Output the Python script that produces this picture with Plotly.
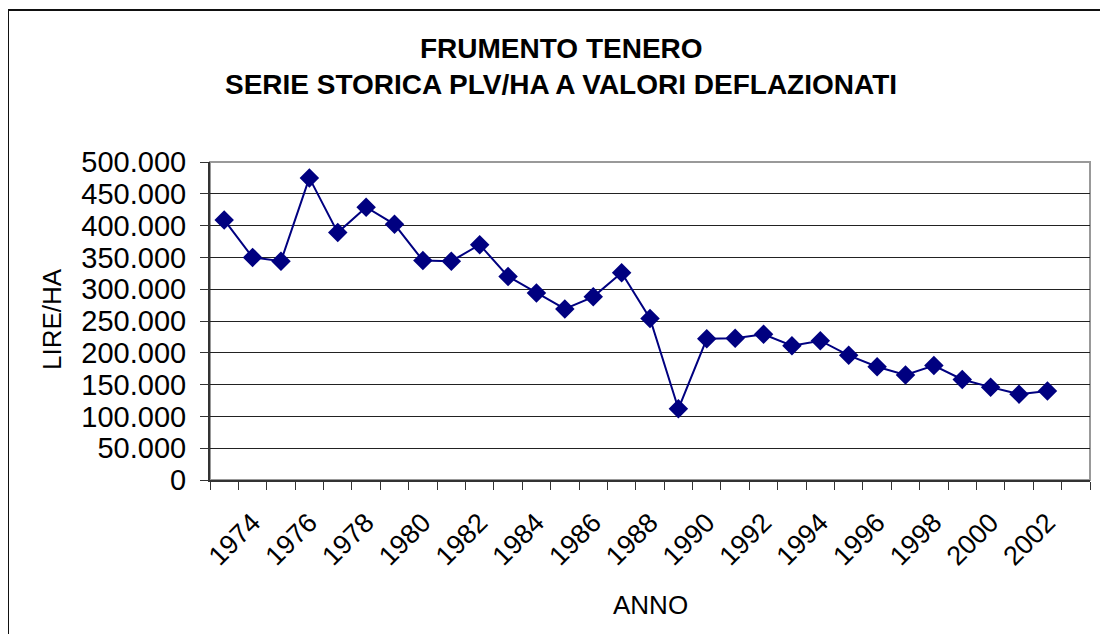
import plotly.graph_objects as go

# ---- data ----
years = list(range(1973, 2003))
plv_ha = [409000, 350000, 344000, 475000, 389000, 429000, 402000, 345000, 344000, 370000,
          320000, 294000, 269000, 288000, 326000, 254000, 112000, 222000, 223000, 229000,
          211000, 219000, 196000, 178000, 165000, 180000, 158000, 146000, 135000, 140000]
tick_years = list(range(1974, 2003, 2))
tick_labels = [str(y) for y in tick_years]
y_ticks = list(range(0, 500001, 50000))

title1 = "FRUMENTO TENERO"
title2 = "SERIE STORICA PLV/HA A VALORI DEFLAZIONATI"
x_title = "ANNO"
y_title = "LIRE/HA"

FONT = "Arial, 'Liberation Sans', sans-serif"
W, H = 1108, 634
OFF = 8  # default page body margin offsets the figure
# plot area in page pixels: x 210..1090, y 162..480
ML = 210 - OFF
MT = 162 - OFF
MR = W - (1090 - OFF)
MB = H - (480 - OFF)
PW, PH = W - ML - MR, H - MT - MB

def px(x):  # page x -> paper
    return (x - OFF - ML) / PW

def py(y):  # page y -> paper
    return (H - MB - (y - OFF)) / PH

fig = go.Figure()
fig.add_trace(go.Scatter(
    x=years, y=plv_ha, mode="lines+markers",
    line=dict(color="#000080", width=2),
    marker=dict(symbol="diamond", size=15, color="#000080"),
    showlegend=False,
))

fig.update_layout(
    width=W, height=H,
    margin=dict(l=ML, r=MR, t=MT, b=MB),
    paper_bgcolor="white", plot_bgcolor="white",
    separators=",.",
    font=dict(family=FONT, color="black"),
    xaxis=dict(
        range=[1972.5, 2003.5],
        tickmode="array", tickvals=tick_years, ticktext=tick_labels,
        tickangle=-45, ticks="", tickfont=dict(size=27),
        ticklabelstandoff=14,
        showgrid=False, zeroline=False,
        showline=True, linecolor="#333333", linewidth=2,
        minor=dict(tickmode="linear", tick0=1972.5, dtick=1, ticks="outside",
                   ticklen=8, tickcolor="#333333", tickwidth=1, showgrid=False),
        fixedrange=True,
    ),
    yaxis=dict(
        range=[0, 500000],
        tickmode="array", tickvals=y_ticks, tickformat=",d",
        ticks="outside", ticklen=8, tickcolor="#333333",
        tickfont=dict(size=29),
        ticklabelstandoff=8,
        showgrid=True, gridcolor="#222222", gridwidth=1,
        zeroline=False,
        showline=True, linecolor="#333333", linewidth=2,
        fixedrange=True,
    ),
    shapes=[
        # plot-area border (top/right)
        dict(type="rect", xref="paper", yref="paper", x0=0, y0=0, x1=1, y1=1,
             line=dict(color="#999999", width=2), layer="below"),
        # chart frame
        dict(type="rect", xref="paper", yref="paper",
             x0=px(OFF), y0=py(H + 40), x1=px(W + 40), y1=py(10),
             line=dict(color="#111111", width=2)),
    ],
    annotations=[
        dict(text="<b>%s</b>" % title1, xref="paper", yref="paper",
             x=px(561), y=py(48.5), xanchor="center", yanchor="middle",
             showarrow=False, font=dict(size=28)),
        dict(text="<b>%s</b>" % title2, xref="paper", yref="paper",
             x=px(561), y=py(85), xanchor="center", yanchor="middle",
             showarrow=False, font=dict(size=28)),
        dict(text=x_title, xref="paper", yref="paper",
             x=px(650), y=py(605), xanchor="center", yanchor="middle",
             showarrow=False, font=dict(size=26)),
        dict(text=y_title, xref="paper", yref="paper",
             x=px(52), y=py(319), xanchor="center", yanchor="middle",
             textangle=-90, showarrow=False, font=dict(size=26)),
    ],
)

fig.write_html("out.html")
